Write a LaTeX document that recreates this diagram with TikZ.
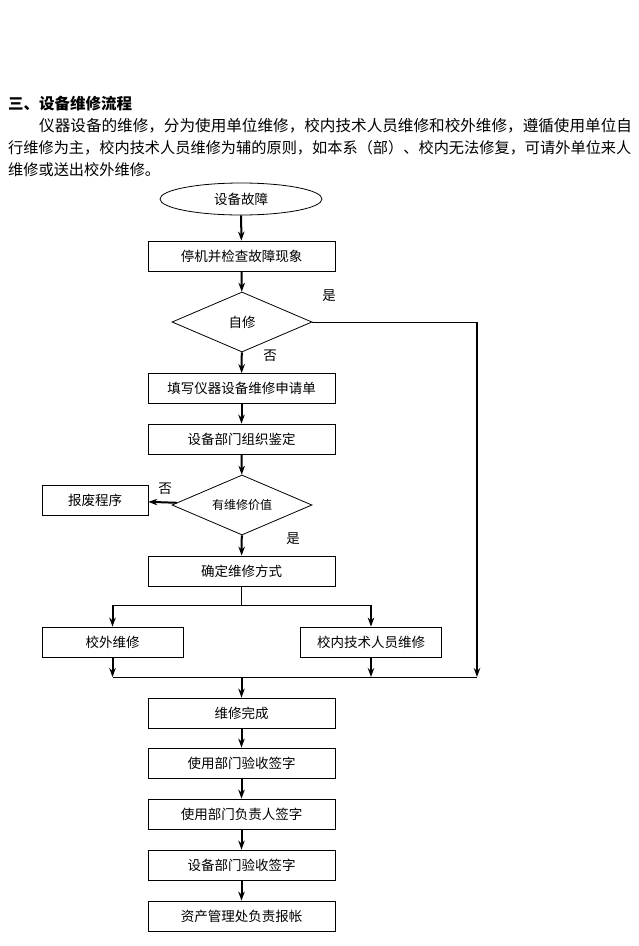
\documentclass[tikz,border=0pt]{standalone}
\usepackage{fontspec}
\usepackage{xcolor}
\usepackage{tikz}
\usetikzlibrary{calc,shapes.geometric,arrows.meta}
\setmainfont{Noto Sans CJK SC}
\definecolor{bg}{HTML}{FFFFFF}
\definecolor{ink}{HTML}{000000}
\tikzset{
  box/.style={draw=ink, line width=0.8pt, rectangle, minimum width=187pt, minimum height=30pt, inner sep=0pt, font=\fontsize{13.5pt}{15pt}\selectfont},
  oval/.style={draw=ink, line width=0.8pt, ellipse, minimum width=162pt, minimum height=32pt, inner sep=0pt, font=\fontsize{13.5pt}{15pt}\selectfont},
  dia/.style={draw=ink, line width=0.8pt, diamond, aspect=2.33, minimum width=140pt, minimum height=60pt, inner sep=0pt, font=\fontsize{13.5pt}{15pt}\selectfont},
  wire/.style={draw=ink, line width=0.8pt},
  arr/.style={draw=ink, line width=2pt, -{Stealth[length=9pt,width=6.5pt]}},
  bigarr/.style={draw=ink, line width=2.6pt, -{Stealth[length=9pt,width=6.5pt]}},
  lab/.style={text=ink, font=\fontsize{13.5pt}{15pt}\selectfont, inner sep=0pt},
  para/.style={text=ink, font=\fontsize{15.2pt}{17pt}\selectfont, inner sep=0pt, anchor=west}
}

\begin{document}
\begin{tikzpicture}[x=1pt,y=-1pt]
  \fill[bg] (0,0) rectangle (638,946);
  \useasboundingbox (0,0) rectangle (638,946);
  \node[para, font=\fontsize{15.5pt}{17pt}\selectfont\bfseries] (T) at (8,104) {三、设备维修流程};
  \node[para, font=\fontsize{15.6pt}{17pt}\selectfont] (P1) at (39,126) {仪器设备的维修，分为使用单位维修，校内技术人员维修和校外维修，遵循使用单位自};
  \node[para] (P2) at (8,148) {行维修为主，校内技术人员维修为辅的原则，如本系（部）、校内无法修复，可请外单位来人};
  \node[para] (P3) at (8,170) {维修或送出校外维修。};
  \node[oval] (E) at (241,199) {设备故障};
  \node[box] (B1) at (241.5,256) {停机并检查故障现象};
  \node[dia] (D1) at (242,322) {自修};
  \node[box] (B2) at (241.5,388.5) {填写仪器设备维修申请单};
  \node[box] (B3) at (241.5,439) {设备部门组织鉴定};
  \node[dia, font=\fontsize{12pt}{14pt}\selectfont] (D2) at (242,505) {有维修价值};
  \node[box, minimum width=106pt] (Z) at (95,500) {报废程序};
  \node[box] (B4) at (241.5,571) {确定维修方式};
  \node[box, minimum width=141pt] (W1) at (112.5,642) {校外维修};
  \node[box, minimum width=141pt] (W2) at (371,642) {校内技术人员维修};
  \node[box] (B5) at (241.5,713) {维修完成};
  \node[box] (B6) at (241.5,763) {使用部门验收签字};
  \node[box] (B7) at (241.5,814) {使用部门负责人签字};
  \node[box] (B8) at (241.5,865) {设备部门验收签字};
  \node[box] (B9) at (241.5,916) {资产管理处负责报帐};
  \node[lab] (Y1) at (329,296) {是};
  \node[lab] (N1) at (270,356) {否};
  \node[lab] (N2) at (165,489) {否};
  \node[lab] (Y2) at (293,539) {是};
  \coordinate (R1) at (477,322);
  \coordinate (R2) at (477,677);
  \coordinate (J1) at (241.5,605);
  \coordinate (L1) at (112.5,605);
  \coordinate (M1) at (371,605);
  \coordinate (L2) at (112.5,677);
  \coordinate (M2) at (371,677);
  \coordinate (J2) at (241.5,677);
  \draw[arr] (E) -- (B1);
  \draw[arr] (B1) -- (D1);
  \draw[arr] (D1) -- (B2);
  \draw[arr] (B2) -- (B3);
  \draw[arr] (B3) -- (D2);
  \draw[arr] (D2) -- (Z);
  \draw[arr] (D2) -- (B4);
  \draw[wire] (D1.east) -- (R1);
  \draw[bigarr] (R1) -- (R2);
  \draw[wire] (B4) -- (J1);
  \draw[wire] (L1) -- (M1);
  \draw[arr] (L1) -- (W1);
  \draw[arr] (M1) -- (W2);
  \draw[arr] (W1) -- (L2);
  \draw[arr] (W2) -- (M2);
  \draw[wire] (L2) -- (R2);
  \draw[arr] (J2) -- (B5);
  \draw[arr] (B5) -- (B6);
  \draw[arr] (B6) -- (B7);
  \draw[arr] (B7) -- (B8);
  \draw[arr] (B8) -- (B9);
\end{tikzpicture}
\end{document}
